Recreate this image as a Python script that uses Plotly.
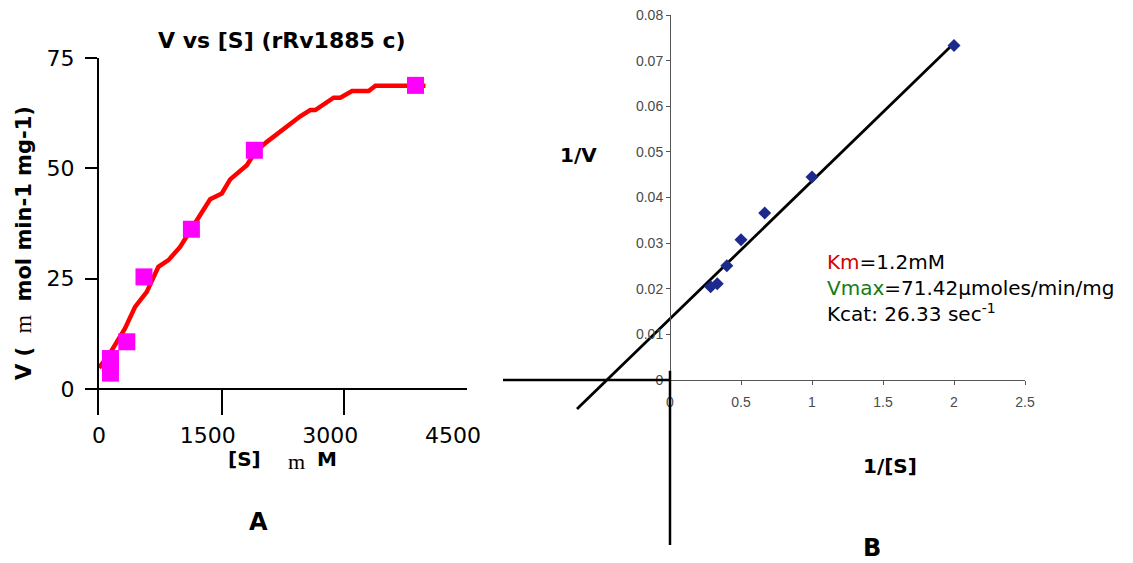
import numpy as np
import plotly.graph_objects as go

W, H = 1133, 563

# ---- Panel A: velocity vs substrate concentration ----
S_MEASURED = [140, 140, 140, 340, 550, 1130, 1900, 3870]
V_MEASURED = [3.6, 5.2, 6.9, 10.7, 25.4, 36.2, 54.1, 68.8]

CURVE_S = [0, 135, 318, 441, 584, 726, 849, 992, 1127, 1237, 1359, 1502, 1604,
           1808, 1910, 2053, 2257, 2461, 2584, 2645, 2869, 2951, 3094, 3298, 3380, 3992]
CURVE_V = [4.8, 8.1, 13.7, 18.6, 22.0, 27.7, 29.2, 32.2, 36.2, 39.4, 43.0, 44.3, 47.5,
           50.7, 53.7, 56.0, 59.0, 61.8, 63.2, 63.2, 66.0, 66.0, 67.5, 67.5, 68.7, 68.7]

A_XTICKS = [0, 1500, 3000, 4500]
A_XTICKTEXT = ["0", "1500", "3000", "4500"]
A_YTICKS = [0, 25, 50, 75]

# ---- Panel B: Lineweaver-Burk plot ----
INV_S = [0.286, 0.333, 0.4, 0.5, 0.667, 1.0, 2.0]
INV_V = [0.0204, 0.0211, 0.025, 0.0307, 0.0366, 0.0445, 0.0733]
FIT_SLOPE = 0.0302
FIT_INTERCEPT = 0.0134
FIT_X = [-0.655, 2.0]

B_XTICKS = [0, 0.5, 1, 1.5, 2, 2.5]
B_XTICKTEXT = ["0", "0.5", "1", "1.5", "2", "2.5"]
B_YTICKS = [0, 0.01, 0.02, 0.03, 0.04, 0.05, 0.06, 0.07, 0.08]
B_YTICKTEXT = ["0", "0.01", "0.02", "0.03", "0.04", "0.05", "0.06", "0.07", "0.08"]


def px(x):
    return x / W


def py(y):
    return 1 - y / H


SANS_W = "DejaVu Sans"
SANS = "Liberation Sans"
SERIF = "Liberation Serif"
NB = "\u00a0"

fig = go.Figure()

fig.add_trace(go.Scatter(x=CURVE_S, y=CURVE_V, mode="lines",
                         line=dict(color="#ff0000", width=4.5),
                         xaxis="x", yaxis="y", hoverinfo="skip"))
fig.add_trace(go.Scatter(x=S_MEASURED, y=V_MEASURED, mode="markers",
                         marker=dict(symbol="square", size=17, color="#ff00ff"),
                         xaxis="x", yaxis="y"))

fit_x = np.array(FIT_X)
fig.add_trace(go.Scatter(x=fit_x, y=FIT_INTERCEPT + FIT_SLOPE * fit_x, mode="lines",
                         line=dict(color="black", width=2.8),
                         xaxis="x2", yaxis="y2", hoverinfo="skip"))
fig.add_trace(go.Scatter(x=INV_S, y=INV_V, mode="markers",
                         marker=dict(symbol="diamond", size=10, color="#1c2a8c"),
                         xaxis="x2", yaxis="y2"))

# Baseline of panel A at V = 0
fig.add_shape(type="line", xref="x", yref="y", x0=0, x1=4500, y0=0, y1=0,
              line=dict(color="black", width=2))
# Heavy origin cross of panel B
fig.add_shape(type="line", xref="x2", yref="y2", x0=-1.176, x1=0, y0=0, y1=0,
              line=dict(color="black", width=2.5))
fig.add_shape(type="line", xref="x2", yref="y2", x0=0, x1=0, y0=0.002, y1=-0.0362,
              line=dict(color="black", width=2.5))

tick_font_a = dict(family=SANS_W, size=22, color="black")
tick_font_b = dict(family=SANS, size=14, color="#4a4a4a")

# tick labels of panel A sit slightly left of their ticks
a_xticktext = [t if t == "0" else t + NB * 4 for t in A_XTICKTEXT]

fig.update_layout(
    width=W, height=H,
    margin=dict(l=0, r=0, t=0, b=0, pad=0, autoexpand=False),
    paper_bgcolor="white", plot_bgcolor="white",
    showlegend=False,
    xaxis=dict(domain=[px(99), px(467)], range=[0, 4500], anchor="y",
               tickvals=A_XTICKS, ticktext=a_xticktext, ticks="inside", ticklen=26,
               tickwidth=2, tickcolor="black", showline=False, showgrid=False,
               zeroline=False, tickfont=tick_font_a, ticklabelstandoff=5,
               automargin=False),
    yaxis=dict(domain=[py(415), py(58)], range=[-5.891, 75], anchor="x",
               tickvals=A_YTICKS, ticks="outside", ticklen=12, tickwidth=2,
               tickcolor="black", showline=True, linecolor="black", linewidth=2,
               showgrid=False, zeroline=False, tickfont=tick_font_a,
               ticklabelstandoff=6, automargin=False),
    xaxis2=dict(domain=[px(503), px(1025)], range=[-1.176, 2.5], anchor="free",
                position=py(380), tickvals=B_XTICKS, ticktext=B_XTICKTEXT,
                ticks="outside", ticklen=4, tickcolor="#555555",
                showline=True, linecolor="#555555", linewidth=1,
                showgrid=False, zeroline=False, tickfont=tick_font_b,
                ticklabelstandoff=5, automargin=False),
    yaxis2=dict(domain=[py(545), py(15)], range=[-0.0362, 0.08], anchor="free",
                position=px(670), tickvals=B_YTICKS, ticktext=B_YTICKTEXT,
                ticks="outside", ticklen=4, tickcolor="#555555",
                showline=True, linecolor="#555555", linewidth=1,
                showgrid=False, zeroline=False, tickfont=tick_font_b,
                ticklabelstandoff=0, automargin=False),
)


def note(x, y, text, size, family=SANS_W, color="black", angle=0, xanchor="center",
         yanchor="middle", align="center"):
    fig.add_annotation(x=px(x), y=py(y), xref="paper", yref="paper", text=text,
                       showarrow=False, font=dict(family=family, size=size, color=color),
                       textangle=angle, xanchor=xanchor, yanchor=yanchor, align=align,
                       borderpad=0)


note(282, 40, "<b>V vs [S] (rRv1885 c)</b>", 22)
note(23, 243, "<b>V (</b>" + NB * 2 +
     "<span style='font-family:Liberation Serif;font-weight:normal;font-size:24px'>m</span>"
     + NB * 2 + "<b>mol min-1 mg-1)</b>", 21, angle=-90)
note(244, 459, "<b>[S]</b>", 20)
note(296, 461, "m", 22, family=SERIF)
note(327, 459, "<b>M</b>", 20)
note(258, 522, "<b>A</b>", 24)

note(578, 155, "<b>1/V</b>", 20)
note(890, 466, "<b>1/[S]</b>", 20)
note(872, 548, "<b>B</b>", 24)
note(826, 288,
     "<span style='color:#d40000'>Km</span>=1.2mM<br>"
     "<span style='color:#167a16'>Vmax</span>=71.42\u00b5moles/min/mg<br>"
     "Kcat: 26.33 sec<sup>-1</sup>",
     20, family=SANS_W, xanchor="left", align="left")

fig.write_html("out.html",
               post_script="document.body.style.margin='0';"
                           "document.body.style.overflow='hidden';")
